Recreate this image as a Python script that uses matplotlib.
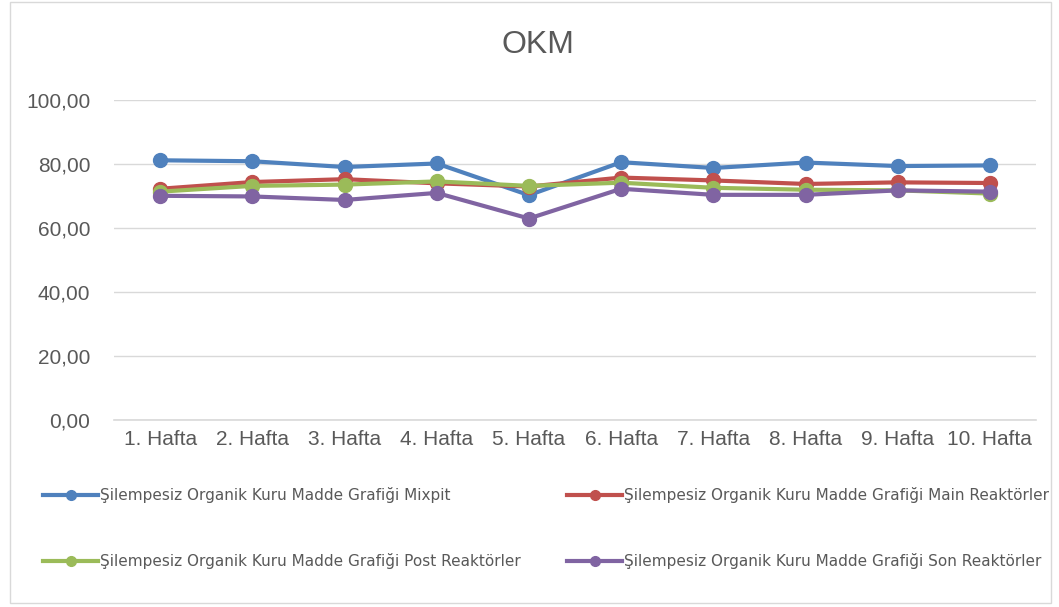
import matplotlib.pyplot as plt
from matplotlib.patches import Rectangle

weeks = ['1. Hafta', '2. Hafta', '3. Hafta', '4. Hafta', '5. Hafta',
         '6. Hafta', '7. Hafta', '8. Hafta', '9. Hafta', '10. Hafta']
mixpit = [81.2, 80.9, 79.1, 80.2, 70.3, 80.6, 78.8, 80.5, 79.4, 79.6]
main_reak = [72.3, 74.4, 75.3, 74.0, 73.0, 75.8, 74.9, 73.8, 74.3, 74.1]
post_reak = [71.4, 73.2, 73.6, 74.6, 73.2, 74.2, 72.6, 72.0, 71.8, 70.8]
son_reak = [70.1, 69.9, 68.8, 71.0, 63.0, 72.3, 70.4, 70.4, 71.8, 71.4]

labels = ['Şilempesiz Organik Kuru Madde Grafiği Mixpit',
          'Şilempesiz Organik Kuru Madde Grafiği Main Reaktörler',
          'Şilempesiz Organik Kuru Madde Grafiği Post Reaktörler',
          'Şilempesiz Organik Kuru Madde Grafiği Son Reaktörler']
colors = ['#4F81BD', '#C0504D', '#9BBB59', '#8064A2']

plt.rcParams['font.family'] = ['Liberation Sans', 'DejaVu Sans']

fig = plt.figure(figsize=(10.59, 6.07), dpi=100)
fig.patches.append(Rectangle((0.009, 0.006), 0.983, 0.99, transform=fig.transFigure,
                             fill=False, edgecolor='#d9d9d9', linewidth=1))
ax = fig.add_axes([0.1077, 0.308, 0.8706, 0.527])

x = range(len(weeks))
lines = []
for vals, lab, c in zip([mixpit, main_reak, post_reak, son_reak], labels, colors):
    ln, = ax.plot(x, vals, color=c, linewidth=3, marker='o', markersize=10, label=lab)
    lines.append(ln)

ax.set_xlim(-0.5, len(weeks) - 0.5)
ax.set_ylim(0, 100)
ax.set_yticks(range(0, 101, 20))
ax.set_yticklabels(['%d,00' % v for v in range(0, 101, 20)])
ax.set_xticks(list(x))
ax.set_xticklabels(weeks)
ax.grid(axis='y', color='#d9d9d9', linewidth=1)
ax.axhline(0, color='#d9d9d9', linewidth=1.2, clip_on=False, zorder=0)
ax.set_axisbelow(True)
for s in ax.spines.values():
    s.set_visible(False)
ax.tick_params(length=0, labelsize=15, labelcolor='#595959', pad=7)
ax.tick_params(axis='y', pad=17)

fig.text(0.508, 0.926, 'OKM', ha='center', va='center', fontsize=23, color='#595959')

leg_kw = dict(loc='center left', frameon=False, borderpad=0, borderaxespad=0,
              prop={'family': 'Liberation Sans Narrow', 'size': 11}, labelcolor='#595959',
              handlelength=3.6, handletextpad=0.15, labelspacing=3.25, markerscale=0.7)
fig.legend([lines[0], lines[2]], [labels[0], labels[2]],
           bbox_to_anchor=(43 / 1059, 0.130), **leg_kw)
fig.legend([lines[1], lines[3]], [labels[1], labels[3]],
           bbox_to_anchor=(567 / 1059, 0.130), **leg_kw)

fig.savefig('out.png', dpi=100)
